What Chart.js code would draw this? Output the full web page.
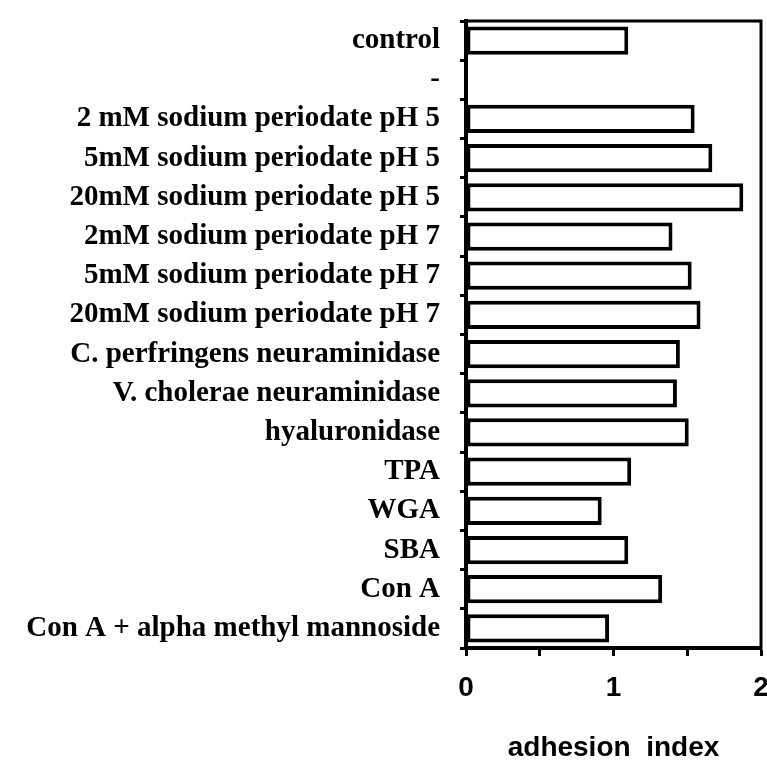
<!DOCTYPE html>
<html>
<head>
<meta charset="utf-8">
<script src="https://cdn.jsdelivr.net/npm/chart.js@4"></script>
<style>
  html, body { margin: 0; padding: 0; background: #fff; }
</style>
</head>
<body>
<canvas id="adhesion-chart" width="767" height="769"></canvas>
<script>
var treatments = [
	"control",
	"-",
	"2 mM sodium periodate pH 5",
	"5mM sodium periodate pH 5",
	"20mM sodium periodate pH 5",
	"2mM sodium periodate pH 7",
	"5mM sodium periodate pH 7",
	"20mM sodium periodate pH 7",
	"C. perfringens neuraminidase",
	"V. cholerae neuraminidase",
	"hyaluronidase",
	"TPA",
	"WGA",
	"SBA",
	"Con A",
	"Con A + alpha methyl mannoside"
];
var adhesionIndex = [1.10, null, 1.55, 1.67, 1.88, 1.40, 1.53, 1.59, 1.45, 1.43, 1.51, 1.12, 0.92, 1.10, 1.33, 0.97];
var xTicks = [0, 0.5, 1, 1.5, 2];
var xLabelled = [0, 1, 2];

// box round the plot (top and right sides of the frame)
var frame = {
	id: 'frame',
	afterDraw: function (chart) {
		var a = chart.chartArea, ctx = chart.ctx;
		ctx.save();
		ctx.strokeStyle = '#000';
		ctx.lineWidth = 3;
		ctx.strokeRect(a.left, a.top, a.right - a.left, a.bottom - a.top);
		ctx.restore();
	}
};

new Chart('adhesion-chart', {
	type: 'bar',
	data: {
		labels: treatments,
		datasets: [{
			data: adhesionIndex,
			backgroundColor: '#fff',
			borderColor: '#000',
			borderWidth: 4,
			borderSkipped: false,
			barPercentage: 0.72,
			categoryPercentage: 1
		}]
	},
	options: {
		indexAxis: 'y',
		responsive: false,
		animation: false,
		layout: { padding: { top: 21, right: 6, left: 0, bottom: 0 } },
		plugins: { legend: { display: false }, tooltip: { enabled: false } },
		scales: {
			x: {
				min: 0,
				max: 2,
				afterBuildTicks: function (scale) {
					scale.ticks = xTicks.map(function (v) { return { value: v }; });
				},
				afterFit: function (scale) {
					scale.height = 121;
					scale.paddingLeft = 0;
					scale.paddingRight = 0;
				},
				grid: { drawOnChartArea: false, tickLength: 8, tickWidth: 3, tickColor: '#000' },
				border: { color: '#000', width: 4 },
				ticks: {
					color: '#000',
					padding: 15,
					maxRotation: 0,
					font: { family: 'Liberation Sans', size: 28, weight: 'bold' },
					callback: function (v) { return xLabelled.indexOf(v) >= 0 ? String(v) : ''; }
				},
				title: {
					display: true,
					text: 'adhesion  index',
					color: '#000',
					padding: { top: 10 },
					font: { family: 'Liberation Sans Narrow, Liberation Sans', size: 28, weight: 'bold' }
				}
			},
			y: {
				afterFit: function (scale) {
					scale.width = 466;
					scale.paddingTop = 0;
					scale.paddingBottom = 0;
				},
				grid: { drawOnChartArea: false, tickLength: 6, tickWidth: 3, tickColor: '#000' },
				border: { color: '#000', width: 4 },
				ticks: {
					color: '#000',
					padding: 20,
					autoSkip: false,
					font: { family: 'Liberation Serif', size: 29, weight: 'bold' }
				}
			}
		}
	},
	plugins: [frame]
});
</script>
</body>
</html>
